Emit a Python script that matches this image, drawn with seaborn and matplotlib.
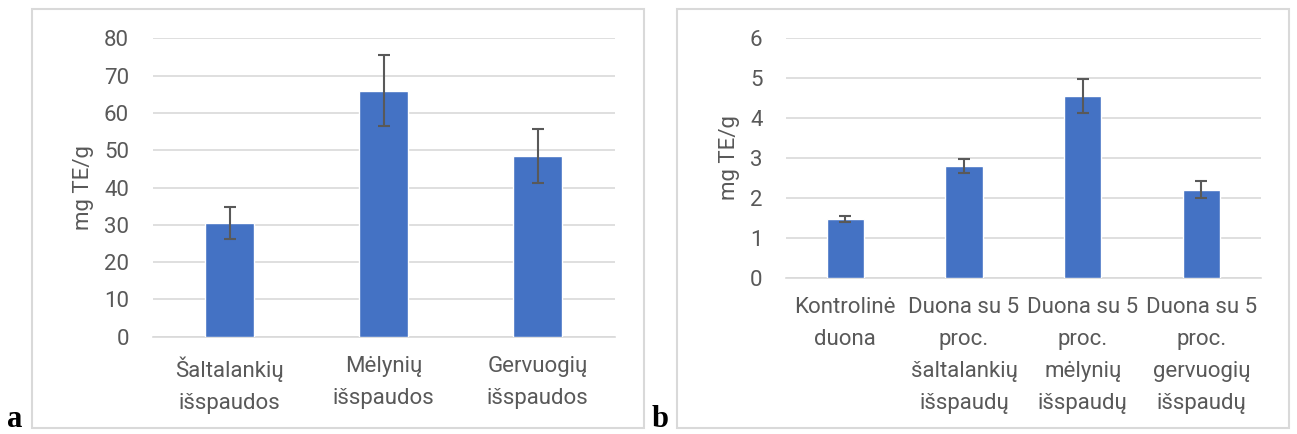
import matplotlib
matplotlib.use("Agg")
import matplotlib.pyplot as plt
from matplotlib.patches import Rectangle
import seaborn as sns
import pandas as pd

# Panel a: pomace extracts
a_categories = ["Šaltalankių\nišspaudos", "Mėlynių\nišspaudos", "Gervuogių\nišspaudos"]
a_values = [30.5, 65.9, 48.4]
a_errors = [4.4, 9.5, 7.3]
a_ticks = [0, 10, 20, 30, 40, 50, 60, 70, 80]

# Panel b: bread with 5 % pomace
b_categories = [
    "Kontrolinė\nduona",
    "Duona su 5\nproc.\nšaltalankių\nišspaudų",
    "Duona su 5\nproc.\nmėlynių\nišspaudų",
    "Duona su 5\nproc.\ngervuogių\nišspaudų",
]
b_values = [1.48, 2.79, 4.56, 2.21]
b_errors = [0.075, 0.175, 0.42, 0.225]
b_ticks = [0, 1, 2, 3, 4, 5, 6]

y_label = "mg TE/g"

BAR = "#4472C4"
TEXT = "#595959"
GRID = "#D9D9D9"
ERR = "#595959"
FS = 16

sns.set_theme(style="white")
plt.rcParams["font.family"] = ["Roboto", "DejaVu Sans"]

W, H = 1297, 434
fig = plt.figure(figsize=(W / 100, H / 100), dpi=100)


def draw_panel(ax, cats, vals, errs, ticks):
    df = pd.DataFrame({"cat": cats, "val": vals})
    sns.barplot(data=df, x="cat", y="val", color=BAR, saturation=1,
                width=0.316, errorbar=None, ax=ax, zorder=3)
    ax.errorbar(range(len(vals)), vals, yerr=errs, fmt="none",
                ecolor=ERR, elinewidth=1.5, capsize=4.3, capthick=1.5, zorder=4)
    ax.set_ylim(ticks[0], ticks[-1])
    ax.set_yticks(ticks)
    ax.set_xlim(-0.5, len(vals) - 0.5)
    ax.yaxis.grid(True, color=GRID, linewidth=1.2, zorder=0)
    ax.set_axisbelow(True)
    for s in ("top", "right", "left"):
        ax.spines[s].set_visible(False)
    ax.spines["bottom"].set_color(GRID)
    ax.spines["bottom"].set_linewidth(1.2)
    ax.tick_params(axis="y", length=0, pad=17, labelsize=FS, labelcolor=TEXT)
    ax.tick_params(axis="x", length=0, pad=14, labelsize=FS, labelcolor=TEXT)
    ax.set_xlabel("")
    ax.set_ylabel(y_label, fontsize=FS, color=TEXT, labelpad=7)
    for t in ax.get_xticklabels():
        t.set_linespacing(1.68)


ax_a = fig.add_axes([152.7 / W, 1 - 336.7 / H, 462 / W, (336.7 - 38.3) / H])
draw_panel(ax_a, a_categories, a_values, a_errors, a_ticks)

ax_b = fig.add_axes([786 / W, 1 - 277.7 / H, 474.7 / W, (277.7 - 38.3) / H])
draw_panel(ax_b, b_categories, b_values, b_errors, b_ticks)

# Panel frames
for x0, x1 in ((32, 643.7), (677.3, 1289.3)):
    fig.patches.append(Rectangle((x0 / W, 1 - 427.5 / H), (x1 - x0) / W,
                                 (427.5 - 9) / H, transform=fig.transFigure,
                                 fill=False, edgecolor=GRID, linewidth=1.5))

# Panel letters
fig.text(7 / W, 1 - 427 / H, "a", fontsize=22, fontweight="bold",
         family="Liberation Serif", color="black", ha="left", va="baseline")
fig.text(652 / W, 1 - 427 / H, "b", fontsize=22, fontweight="bold",
         family="Liberation Serif", color="black", ha="left", va="baseline")

fig.savefig("out.png", dpi=100, facecolor="white")
